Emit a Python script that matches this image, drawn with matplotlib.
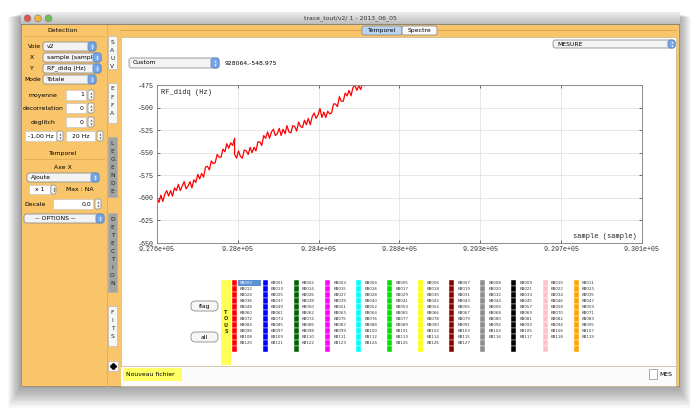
import matplotlib
matplotlib.use('Agg')
import matplotlib.pyplot as plt
from matplotlib.patches import Rectangle, FancyBboxPatch, Circle
import numpy as np

plt.rcParams['axes.unicode_minus'] = False

# trace (one value every 10 samples)
seg1_start = 927600
seg2_start = 928000
step = 10
seg1_values = [-600, -605, -597, -604, -596, -592, -598, -592, -598, -589,
               -592, -585, -592, -587, -582, -590, -587, -582, -589, -580,
               -583, -574, -579, -573, -577, -566, -565, -569, -559, -562,
               -561, -552, -555, -555, -546, -549, -540, -545, -539, -542,
               -534]
seg2_values = [-552, -556, -548, -554, -556, -547, -548, -552, -544, -550,
               -544, -548, -538, -538, -542, -531, -534, -527, -534, -527,
               -524, -531, -529, -523, -531, -524, -529, -520, -527, -528,
               -520, -521, -526, -516, -521, -522, -514, -519, -512, -519,
               -510, -506, -512, -508, -501, -511, -505, -511, -504, -507,
               -506, -496, -496, -499, -488, -493, -493, -484, -487, -481,
               -487, -478, -475, -481, -476, -480, -472, -476, -468, -475,
               -472, -466, -473, -466, -470, -463]

x_lim = (927600, 930100)
y_lim = (-650, -475)
y_ticks = [-650, -625, -600, -575, -550, -525, -500, -475]
x_tick_labels = ['9.276e+05', '9.28e+05', '9.284e+05', '9.288e+05',
                 '9.293e+05', '9.297e+05', '9.301e+05']

window_title = 'trace_tout/v2/ 1 - 2013_06_05'
cursor_text = '928064,-548.975'
n_channels = 128
channel_colors = ['#ff0000', '#0000ff', '#006400', '#ff00ff', '#00ffff', '#00e000',
                  '#ffff00', '#8b0000', '#8c8c8c', '#000000', '#ffc0cb', '#ffa500']
side_tabs = ['SAUV', 'EFFA', 'LEGENDE', 'DETECTION', 'FITS']

ORANGE = '#f8c56a'
UI = 'DejaVu Sans'
MONO = 'Liberation Mono'

fig = plt.figure(figsize=(7, 4.15), dpi=100)
bg = fig.add_axes([0, 0, 1, 1])
bg.set_xlim(0, 700)
bg.set_ylim(415, 0)
bg.axis('off')


def rect(x0, y0, x1, y1, fc, ec='none', lw=0.6, z=1, alpha=1.0):
    bg.add_patch(Rectangle((x0, y0), x1 - x0, y1 - y0, facecolor=fc, edgecolor=ec,
                           linewidth=lw, zorder=z, alpha=alpha))


def rbox(x0, y0, x1, y1, fc, ec, r=2.5, z=2, lw=0.6):
    bg.add_patch(FancyBboxPatch((x0, y0), x1 - x0, y1 - y0,
                                boxstyle=f'round,pad=0,rounding_size={r}',
                                facecolor=fc, edgecolor=ec, linewidth=lw, zorder=z))


def txt(x, y, s, size=4.4, ha='left', color='black', family=UI, **kw):
    bg.text(x, y, s, fontsize=size, ha=ha, va='center', color=color,
            family=family, zorder=6, **kw)


def arrows(x, y, color='#222222'):
    bg.plot([x], [y - 1.6], marker='^', ms=1.5, color=color, zorder=7, mew=0)
    bg.plot([x], [y + 1.6], marker='v', ms=1.5, color=color, zorder=7, mew=0)


def popup(x0, y0, x1, y1, label, cap=8):
    rbox(x0, y0, x1, y1, '#f3f3f3', '#8c8c8c')
    rbox(x1 - cap, y0, x1, y1, '#74a6e8', '#5c88c6')
    arrows(x1 - cap / 2, (y0 + y1) / 2, 'white')
    txt(x0 + 4, (y0 + y1) / 2, label)


def field(x0, y0, x1, y1, label, ha='right'):
    rect(x0, y0, x1, y1, 'white', '#c8c8c8', lw=0.5, z=2)
    if ha == 'right':
        txt(x1 - 2, (y0 + y1) / 2, label, ha='right')
    else:
        txt((x0 + x1) / 2, (y0 + y1) / 2, label, ha='center')


def stepper(x0, y0, x1, y1):
    rbox(x0, y0, x1, y1, '#fafafa', '#9a9a9a', r=2)
    arrows((x0 + x1) / 2, (y0 + y1) / 2, '#555555')


# drop shadow of the window
for i in range(16):
    rect(20 - i * 0.8, 14 + i * 0.2, 679 + i * 0.8, 388 + i * 1.3, 'black', z=0, alpha=0.025)

# window body
rect(20.5, 12, 679, 386, ORANGE, '#9a8a70', lw=0.6, z=1)
grad = np.linspace(0.93, 0.74, 30)[:, None]
bg.imshow(grad, extent=(20.5, 679, 24, 12), cmap='gray', vmin=0, vmax=1,
          aspect='auto', zorder=2)
bg.set_xlim(0, 700)
bg.set_ylim(415, 0)
bg.plot([20.5, 679], [24, 24], color='#7a7a7a', lw=0.6, zorder=3)
for cx, c in zip([27.5, 38, 48.5], ['#e8524a', '#f2b53a', '#6cc04a']):
    bg.add_patch(Circle((cx, 18.3), 3.4, facecolor=c, edgecolor='#7a7a7a', lw=0.4, zorder=4))
txt(350, 18, window_title, size=4.4, ha='center', color='#333333')

# top tab bar
bg.plot([120, 676], [30.5, 30.5], color='#d9a24a', lw=0.6, zorder=2)
rbox(362, 26, 402, 35, '#b9d3f3', '#8c8c8c', r=2)
rbox(402, 26, 437, 35, '#fafafa', '#8c8c8c', r=2)
txt(382, 30.5, 'Temporel', ha='center')
txt(419.5, 30.5, 'Spectre', ha='center')

# left panel
txt(63, 30.5, 'Detection', ha='center')
bg.plot([24, 104], [36, 36], color='#e0a94f', lw=0.6, zorder=3)
txt(41, 46.5, 'Voie', ha='right')
popup(43, 42, 96, 51, 'v2')
txt(32, 57.5, 'X', ha='center')
popup(43, 53, 101, 62, 'sample (sampl')
txt(32, 68.5, 'Y', ha='center')
popup(43, 64, 101, 73, 'RF_didq (Hz)')
txt(41, 79.5, 'Mode', ha='right')
popup(43, 75, 96, 84, 'Totale')
for yy, lab, val in [(95, 'moyenne', '1'), (108, 'decorrelation', '0'), (122, 'deglitch', '0')]:
    txt(43, yy, lab, ha='center')
    field(66, yy - 5, 86, yy + 5, val)
    stepper(88, yy - 5, 94, yy + 5)
field(25, 131, 56, 141, '-1,00 Hz')
stepper(57, 131, 63, 141)
field(66, 131, 95, 141, '20 Hz', ha='center')
stepper(97, 131, 103, 141)
txt(63, 153, 'Temporel', ha='center')
bg.plot([24, 104], [159, 159], color='#e0a94f', lw=0.6, zorder=3)
txt(63, 167, 'Axe X', ha='center')
popup(27, 173, 99, 182, 'Ajoute')
field(29, 185, 50, 194, 'x 1', ha='center')
stepper(51, 185, 56, 194)
txt(80, 189.5, 'Max : NA', ha='center')
txt(35, 204, 'Decale', ha='center')
field(53, 199, 93, 209, '0,0')
stepper(95, 199, 101, 209)
popup(24, 214, 104, 223, '')
txt(55, 218.5, '-- OPTIONS --', ha='center')

# vertical tab strip
bg.plot([107, 107], [24, 386], color='#e0ad5a', lw=0.6, zorder=2)
tab_spans = [(36, 69), (83, 123), (137, 197), (213, 292), (306, 346)]
tab_faces = ['#f7f7f7', '#f7f7f7', '#a3a3a3', '#a3a3a3', '#f7f7f7']
for name, (t0, t1), fc in zip(side_tabs, tab_spans, tab_faces):
    rect(108, t0, 117, t1, fc, '#b0b0b0', lw=0.4, z=2)
    for k, ch in enumerate(name):
        txt(112.5, t0 + 6 + 8 * k, ch, size=4.3, ha='center', color='#222222')
rect(108, 361, 118, 371, '#f7f7f7', '#b0b0b0', lw=0.4, z=2)
bg.plot([110, 116], [366, 366], color='black', lw=0.8, zorder=7)
bg.plot([113], [366], marker='D', ms=3, color='black', zorder=7)

# white content area
rect(120.5, 37, 676, 386, 'white', '#c9b48a', lw=0.5, z=2)
popup(129, 58, 219, 68, 'Custom')
txt(225, 63, cursor_text, size=4.4)
popup(553, 40, 675, 48, 'MESURE', cap=7)

# channel selector
rbox(191, 301, 218, 311, '#f6f6f6', '#8a8a8a', r=4.5)
txt(204.5, 306, 'flag', ha='center')
rbox(191, 332, 218, 342, '#f6f6f6', '#8a8a8a', r=4.5)
txt(204.5, 337, 'all', ha='center')
rect(221, 280, 231, 365, '#ffff55', z=3)
for k, ch in enumerate('TOUS'):
    txt(226, 312.5 + 6.3 * k, ch, size=3.6, ha='center', color='#333300', weight='bold')

n_groups = len(channel_colors)
n_rows = 12
for g, col in enumerate(channel_colors):
    cx = 232 + 31.05 * g
    for r in range(n_rows):
        rect(cx, 280 + 6 * r, cx + 5, 286 + 6 * r, col, 'white', lw=0.3, z=3)
        ch = g + n_groups * r
        if ch < n_channels:
            name = f'KB{ch:03d}'
            if ch == 0:
                rect(cx + 6, 280, cx + 29, 285.6, '#5b8fd6', z=3)
                txt(cx + 8, 283, name, size=2.9, color='white')
            else:
                txt(cx + 8, 283 + 6 * r, name, size=2.9, color='#333333')

# bottom bar
rect(121, 365.5, 676, 386, '#fbfbfb', z=3)
bg.plot([121, 676], [365.5, 365.5], color='#d5c7a8', lw=0.7, zorder=4)
rect(123, 368, 182, 381, '#ffff66', z=4)
txt(126, 374.5, 'Nouveau fichier', size=4.4)
popup(597, 369, 647, 379, '', cap=7)
rect(649, 368.5, 657, 378.5, 'white', '#8a8a8a', lw=0.5, z=4)
txt(659, 374, 'MES', size=4.4)

# the plot itself
ax = fig.add_axes([157 / 700, 1 - 243 / 415, 485 / 700, 158 / 415])
ax.set_facecolor('white')
trace_x = np.concatenate([seg1_start + step * np.arange(len(seg1_values)),
                          seg2_start + step * np.arange(len(seg2_values))])
trace_y = np.concatenate([seg1_values, seg2_values])
ax.plot(trace_x, trace_y, color='#ff0000', lw=0.9)
ax.set_xlim(*x_lim)
ax.set_ylim(*y_lim)
ax.set_xticks(np.linspace(x_lim[0], x_lim[1], len(x_tick_labels)))
ax.set_xticklabels(x_tick_labels)
ax.set_yticks(y_ticks)
ax.grid(True, color='#e3e3e3', lw=0.6)
ax.tick_params(which='both', direction='in', length=2.5, width=0.5,
               colors='#333333', labelsize=4.8, pad=2.5,
               top=True, right=True)
for lab in ax.get_xticklabels() + ax.get_yticklabels():
    lab.set_family(MONO)
for sp in ax.spines.values():
    sp.set_color('#8a8a8a')
    sp.set_linewidth(0.7)
ax.text(0.008, 0.955, 'RF_didq (Hz)', transform=ax.transAxes, family=MONO,
        fontsize=5, va='center', ha='left', color='#222222')
ax.text(0.99, 0.018, 'sample (sample)', transform=ax.transAxes, family=MONO,
        fontsize=5, va='bottom', ha='right', color='#222222')

fig.savefig('out.png', dpi=100)
